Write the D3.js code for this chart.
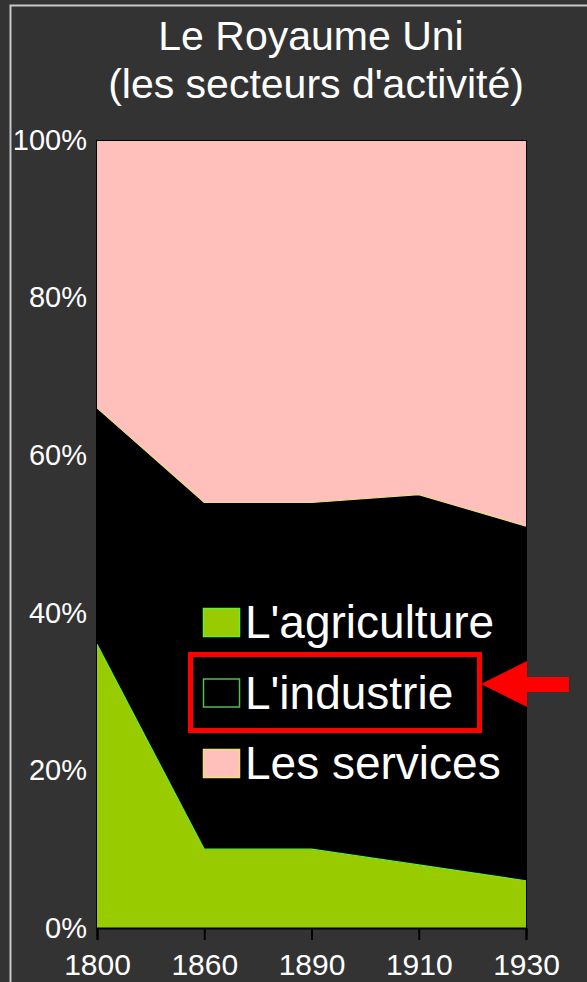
<html>
  <head>
    <script src="https://d3js.org/d3.v7.min.js"></script>
    <style>
      body { margin: 0; background: #333333; }
      text { font-family: "Liberation Sans", Arial, sans-serif; fill: #ffffff; }
    </style>
  </head>
  <body>
    <svg id="svg1" width="587" height="982"></svg>
    <script>
      // data (percent of workforce)
      const years = ["1800", "1860", "1890", "1910", "1930"];
      const agriculture = [36, 10, 10, 8, 6];
      const industry = [30, 44, 44, 47, 45];
      const services = [34, 46, 46, 45, 49];
      const seriesNames = ["L'agriculture", "L'industrie", "Les services"];
      const yTicks = [0, 0.2, 0.4, 0.6, 0.8, 1];

      const fills = ["#99cc00", "#000000", "#ffc0bc"];
      const edges = ["#66ee33", "#55bb55", "#eedd88"];

      const svg = d3.select("svg#svg1");
      const margin = { top: 140, right: 61, bottom: 54, left: 97 };
      const width = +svg.attr("width");
      const height = +svg.attr("height");

      const rows = years.map((y, i) => ({
        year: y,
        a: agriculture[i] / 100,
        b: industry[i] / 100,
        c: services[i] / 100
      }));
      const stacked = d3.stack().keys(["a", "b", "c"])(rows);

      const x = d3.scalePoint().domain(years).range([margin.left, width - margin.right]);
      const y = d3.scaleLinear().domain([0, 1]).range([height - margin.bottom, margin.top]);

      // outer frame
      svg.append("path")
        .attr("d", `M10.5,${height} V5.5 H${width}`)
        .attr("fill", "none")
        .attr("stroke", "#c8c8c8")
        .attr("stroke-width", 2);

      // title
      const title = svg.append("text")
        .attr("text-anchor", "middle")
        .attr("font-size", 41);
      title.append("tspan").attr("x", 311).attr("y", 50).text("Le Royaume Uni");
      title.append("tspan").attr("x", 316).attr("y", 98).text("(les secteurs d'activité)");

      // areas
      const area = d3.area()
        .x((d) => x(d.data.year))
        .y0((d) => y(d[0]))
        .y1((d) => y(d[1]));

      svg.append("g")
        .selectAll("path")
        .data(stacked)
        .join("path")
        .attr("fill", (d, i) => fills[i])
        .attr("d", area);

      // thin coloured edge on top of each band
      const topLine = d3.line()
        .x((d) => x(d.data.year))
        .y((d) => y(d[1]));
      svg.append("g")
        .selectAll("path")
        .data(stacked.slice(0, 2))
        .join("path")
        .attr("fill", "none")
        .attr("stroke", (d, i) => edges[i === 1 ? 2 : 0])
        .attr("stroke-width", 1.2)
        .attr("d", topLine);

      // plot border
      svg.append("rect")
        .attr("x", margin.left - 0.5)
        .attr("y", margin.top + 0.5)
        .attr("width", x.range()[1] - margin.left + 1)
        .attr("height", y(0) - margin.top)
        .attr("fill", "none")
        .attr("stroke", "#000")
        .attr("stroke-width", 1);

      // x axis
      const xAxis = svg.append("g")
        .attr("transform", `translate(0,${y(0)})`)
        .call(d3.axisBottom(x).tickSize(12).tickPadding(14));
      xAxis.select(".domain").attr("stroke", "#000").attr("stroke-width", 2);
      xAxis.selectAll(".tick line").attr("stroke", "#000").attr("stroke-width", 2);
      xAxis.selectAll("text")
        .attr("fill", "#fff")
        .attr("font-size", 30)
        .attr("font-family", "Liberation Sans, Arial, sans-serif");

      // y axis labels
      const yAxis = svg.append("g")
        .attr("transform", `translate(${margin.left},0)`)
        .call(d3.axisLeft(y).tickValues(yTicks).tickFormat(d3.format(".0%")).tickSize(0).tickPadding(10));
      yAxis.select(".domain").remove();
      yAxis.selectAll("text")
        .attr("fill", "#fff")
        .attr("font-size", 29)
        .attr("font-family", "Liberation Sans, Arial, sans-serif");

      // legend
      const legend = svg.append("g").attr("transform", "translate(203,608)");
      const item = legend.selectAll("g")
        .data(seriesNames)
        .join("g")
        .attr("transform", (d, i) => `translate(0,${i * 70.5})`);
      item.append("rect")
        .attr("x", 0.5)
        .attr("y", 0.5)
        .attr("width", 36)
        .attr("height", 28)
        .attr("fill", (d, i) => fills[i])
        .attr("stroke", (d, i) => edges[i])
        .attr("stroke-width", 1.5);
      item.append("text")
        .attr("x", 42)
        .attr("y", 30)
        .attr("font-size", 46)
        .text((d) => d);

      // highlight box and arrow
      svg.append("rect")
        .attr("x", 190.5)
        .attr("y", 654.5)
        .attr("width", 289)
        .attr("height", 76)
        .attr("fill", "none")
        .attr("stroke", "#ff0000")
        .attr("stroke-width", 5);

      svg.append("path")
        .attr("d", "M481,684 L527,661 L527,677 L569,677 L569,692 L527,692 L527,707 Z")
        .attr("fill", "#ff0000");
    </script>
  </body>
</html>
